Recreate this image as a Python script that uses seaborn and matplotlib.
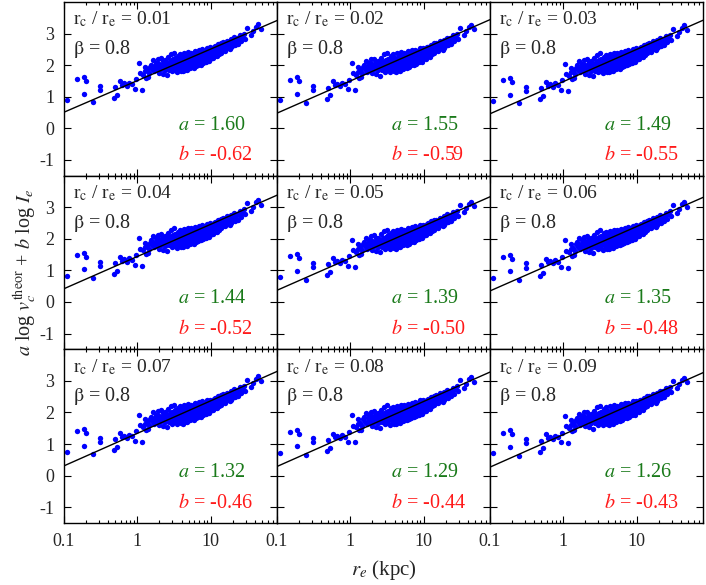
import seaborn as sns
import matplotlib.pyplot as plt
import matplotlib.ticker as mticker
import numpy as np
import pandas as pd

re_kpc = [0.11, 0.15, 0.19, 0.20, 0.19, 0.25, 0.31, 0.31, 0.50, 0.48, 0.53, 0.58, 0.62,
          0.66, 0.72, 0.78, 0.85, 0.95, 0.92, 1.15, 1.05, 1.20, 1.30, 1.35, 1.45, 1.50,
          1.10, 1.25, 1.40, 1.28,
          1.55, 1.6, 1.62, 1.7, 1.72, 1.78, 1.8, 1.85, 1.9, 1.92, 1.95, 1.98,
          2.0, 2.05, 2.1, 2.1, 2.15, 2.2, 2.25, 2.3, 2.3, 2.35, 2.4, 2.45, 2.5, 2.5, 2.55,
          2.6, 2.6, 2.65, 2.7, 2.75, 2.8, 2.85, 2.9, 2.95, 2.98,
          3.0, 3.05, 3.1, 3.1, 3.15, 3.2, 3.2, 3.25, 3.3, 3.3, 3.35, 3.4, 3.45, 3.5, 3.5,
          3.55, 3.6, 3.6, 3.65, 3.7, 3.7, 3.75, 3.8, 3.8, 3.85, 3.9, 3.9, 3.95, 3.98, 3.98,
          4.0, 4.05, 4.1, 4.1, 4.15, 4.2, 4.2, 4.25, 4.3, 4.3, 4.35, 4.4, 4.4, 4.45, 4.5,
          4.5, 4.55, 4.6, 4.6, 4.65, 4.7, 4.7, 4.75, 4.8, 4.8, 4.85, 4.9, 4.9, 4.95, 4.98,
          5.0, 5.05, 5.1, 5.15, 5.2, 5.25, 5.3, 5.35, 5.4, 5.45, 5.5, 5.55, 5.6, 5.65, 5.7,
          5.75, 5.8, 5.85, 5.9, 5.95, 6.0, 6.05, 6.1, 6.15, 6.2, 6.3, 6.35, 6.4, 6.5, 6.55,
          6.6, 6.7, 6.8, 6.85, 6.95,
          7.0, 7.05, 7.15, 7.2, 7.3, 7.35, 7.45, 7.5, 7.6, 7.7, 7.8, 7.85, 7.95, 8.0, 8.1,
          8.2, 8.3, 8.4, 8.5, 8.6, 8.7, 8.8, 8.9, 9.0, 9.1, 9.2, 9.3, 9.4, 9.5, 9.6, 9.7,
          9.8, 9.85, 9.9, 9.95,
          10.0, 10.2, 10.4, 10.6, 10.8, 11.0, 11.2, 11.4, 11.6, 11.8, 12.0, 12.2, 12.4,
          12.6, 12.8, 13.0, 13.2, 13.4, 13.6, 13.8, 13.9, 11.3, 12.9, 10.9, 13.5,
          14.2, 14.5, 14.8, 15.2, 15.6, 16.0, 16.4, 16.8, 17.2, 17.6, 18.0, 18.4, 18.8,
          19.2, 19.6, 15.0, 17.0, 19.0,
          20.5, 21.0, 21.5, 22.0, 23.0, 23.5, 24.5, 25.0, 26.0, 27.0, 28.0, 29.0,
          31.6, 35.5, 38.0, 44.7, 48.0, 41.0]
y_base = [0.90, 1.55, 1.62, 1.50, 1.10, 0.82, 1.35, 1.22, 1.30, 0.95, 1.05, 1.50, 1.38,
          1.42, 1.35, 1.45, 1.40, 1.55, 1.25, 1.22, 2.08, 1.70, 1.60, 1.85, 1.75, 1.95,
          1.75, 1.95, 1.62, 1.80,
          2.02, 1.88, 2.15, 1.80, 1.98, 1.92, 2.08, 1.85, 2.00, 2.20, 1.90, 1.75,
          2.05, 1.95, 2.22, 1.88, 2.02, 1.72, 2.12, 1.95, 2.05, 1.85, 2.15, 2.00, 1.92, 2.08, 1.68,
          2.25, 1.98, 2.04, 1.86, 2.12, 1.94, 2.35, 2.02, 1.80, 2.15,
          2.08, 1.95, 2.18, 2.00, 2.40, 2.05, 1.85, 2.12, 1.98, 2.22, 2.04, 1.92, 2.15, 2.08, 1.78,
          2.30, 2.00, 2.10, 1.94, 2.18, 2.06, 1.88, 2.14, 1.98, 2.35, 2.08, 1.90, 2.02, 2.20, 1.82,
          2.12, 2.00, 2.25, 1.90, 2.06, 2.18, 1.80, 2.10, 1.98, 2.38, 2.04, 2.22, 1.94, 2.15, 1.86,
          2.08, 2.30, 2.00, 2.16, 2.06, 1.92, 2.26, 2.12, 1.84, 2.20, 2.02, 2.14, 2.42, 1.96, 2.08,
          2.16, 2.00, 2.28, 2.08, 1.90, 2.22, 2.12, 2.02, 2.40, 2.18, 1.94, 2.06, 2.26, 2.14, 2.00,
          2.32, 2.10, 1.92, 2.22, 2.04, 2.16, 2.45, 2.02, 2.28, 2.12, 1.96, 2.20, 2.36, 2.08, 2.16,
          2.00, 2.26, 2.12, 2.48, 2.20,
          2.26, 2.08, 2.36, 2.18, 2.02, 2.30, 2.22, 2.50, 2.12, 2.28, 2.40, 2.18, 2.06, 2.34, 2.26,
          2.46, 2.16, 2.32, 2.10, 2.40, 2.24, 2.55, 2.30, 2.14, 2.38, 2.22, 2.46, 2.32, 2.12, 2.36,
          2.56, 2.26, 2.42, 2.20, 2.34,
          2.44, 2.28, 2.52, 2.38, 2.22, 2.48, 2.42, 2.60, 2.34, 2.46, 2.28, 2.56, 2.44,
          2.66, 2.50, 2.36, 2.58, 2.48, 2.40, 2.56, 2.70, 2.30, 2.44, 2.58, 2.52,
          2.60, 2.48, 2.72, 2.58, 2.46, 2.68, 2.62, 2.78, 2.54, 2.70, 2.50, 2.66, 2.82,
          2.62, 2.74, 2.64, 2.58, 2.56,
          2.76, 2.88, 2.64, 2.78, 2.86, 2.68, 2.84, 2.96, 2.76, 2.90, 3.00, 2.84,
          3.19, 2.95, 3.08, 3.29, 3.15, 3.22]

rc_re = ['0.01', '0.02', '0.03', '0.04', '0.05', '0.06', '0.07', '0.08', '0.09']
coef_a = ['1.60', '1.55', '1.49', '1.44', '1.39', '1.35', '1.32', '1.29', '1.26']
coef_b = ['-0.62', '-0.59', '-0.55', '-0.52', '-0.50', '-0.48', '-0.46', '-0.44', '-0.43']
# deslocamento vertical da nuvem em cada painel
shift = [0.0, -0.01, -0.03, -0.07, -0.11, -0.13, -0.15, -0.17, -0.19]
# reta de ajuste: y = intercepto + inclinacao * log10(re)
intercept = [1.51, 1.50, 1.48, 1.44, 1.39, 1.37, 1.34, 1.32, 1.30]
slope = [1.00, 1.02, 1.02, 1.02, 1.02, 1.02, 1.03, 1.03, 1.03]
x_line = [0.1, 80]

sns.set_style('ticks')
plt.rcParams['font.family'] = ['Liberation Serif', 'DejaVu Serif']
plt.rcParams['mathtext.fontset'] = 'stix'
plt.rcParams['axes.unicode_minus'] = False

fig, axes = plt.subplots(3, 3, figsize=(7.06, 5.85), dpi=100, sharex=True, sharey=True)
fig.subplots_adjust(left=0.0907, right=0.9958, top=0.9966, bottom=0.106, wspace=0, hspace=0)

for i, ax in enumerate(axes.flat):
    df = pd.DataFrame({'re': re_kpc, 'y': [v + shift[i] for v in y_base]})
    sns.scatterplot(data=df, x='re', y='y', ax=ax, color='#0000ff', s=15, linewidth=0)
    yl = [intercept[i] + slope[i] * np.log10(x) for x in x_line]
    sns.lineplot(x=x_line, y=yl, ax=ax, color='black', linewidth=1.0)
    ax.set_xscale('log')
    ax.set_xlim(0.1, 80)
    ax.set_ylim(-1.5, 4)
    ax.set_yticks([-1, 0, 1, 2, 3])
    ax.xaxis.set_major_locator(mticker.FixedLocator([0.1, 1, 10]))
    ax.xaxis.set_major_formatter(mticker.FixedFormatter(['0.1', '1', '10']))
    ax.xaxis.set_minor_locator(mticker.LogLocator(base=10, subs=range(2, 10)))
    ax.xaxis.set_minor_formatter(mticker.NullFormatter())
    ax.tick_params(which='both', direction='in', top=True, right=True, labelsize=13,
                   pad=7, color='black', width=0.8)
    ax.tick_params(which='major', length=5)
    ax.tick_params(which='minor', length=2.5)
    for sp in ax.spines.values():
        sp.set_linewidth(1.0)
        sp.set_color('black')
    ax.set_xlabel('')
    ax.set_ylabel('')
    ax.text(0.04, 0.90, r'r$_\mathrm{c}$ / r$_\mathrm{e}$ = ' + rc_re[i], transform=ax.transAxes,
            fontsize=14, va='center', ha='left')
    ax.text(0.04, 0.73, r'$\mathrm{\beta}$ = 0.8', transform=ax.transAxes,
            fontsize=14.5, va='center', ha='left')
    ax.text(0.535, 0.29, r'$a$ = ' + coef_a[i], transform=ax.transAxes,
            fontsize=14.5, va='center', ha='left', color='#1a7a1a')
    ax.text(0.535, 0.115, r'$b$ = ' + coef_b[i], transform=ax.transAxes,
            fontsize=14.5, va='center', ha='left', color='#ff1a1a')

fig.text(384 / 706, 1 - 570 / 585, r'$r_e$ (kpc)', ha='center', va='center', fontsize=15)
fig.text(25 / 706, 1 - 272 / 585, r'$a$ log $v_c^{\rm theor}$ + $b$ log $I_e$',
         ha='center', va='center', rotation=90, fontsize=14.5)

plt.savefig('out.png', dpi=100)
